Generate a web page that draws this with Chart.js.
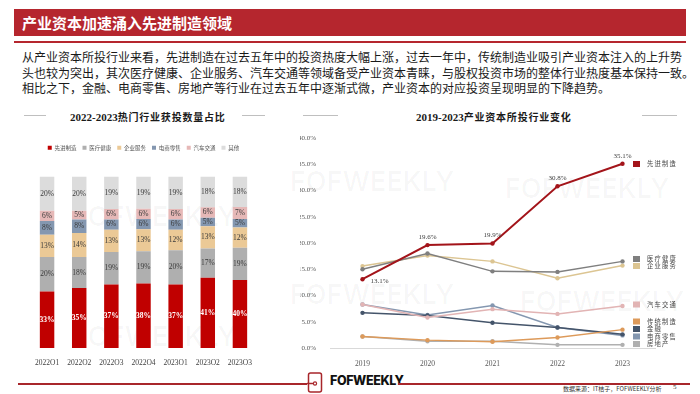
<!DOCTYPE html>
<html>
<head>
<meta charset="utf-8">
<script src="https://cdn.jsdelivr.net/npm/chart.js@4.4.0/dist/chart.umd.min.js"></script>
<style>
body{margin:0;width:700px;height:394px;position:relative;background:#fff;overflow:hidden;font-family:"Liberation Serif","Noto Sans CJK SC",serif;}
.abs{position:absolute;}
#titlebar{left:14px;top:9px;width:672px;height:27px;background:#b5262e;color:#fff;font:bold 15px "Noto Sans CJK SC";line-height:27px;padding-left:8px;box-sizing:border-box;}
#titleline{left:14px;top:41px;width:672px;height:2px;background:#b5262e;}
#para{left:22px;top:49px;font-size:12px;line-height:15.5px;letter-spacing:0;color:#1a1a1a;font-family:"Noto Sans CJK SC";white-space:nowrap;}
.ctitle{top:107px;font-weight:bold;color:#1a1a1a;white-space:nowrap;}
.ctitle .num{font:bold 11px "Liberation Serif";}
.ctitle .cn{font:bold 10px "Noto Sans CJK SC";letter-spacing:0.8px;}
.gline{height:1px;background:#bfbfbf;top:115px;}
.wm{font:600 27px "Inter";color:rgba(0,0,0,0.03);white-space:nowrap;}
.fline{height:1.5px;background:#a8262b;top:383px;}
#logo{left:330px;top:373px;font:800 12.5px "Inter";letter-spacing:-0.4px;color:#111;}
#src{left:563px;top:384px;font-size:6px;color:#333;font-family:"Noto Sans CJK SC";white-space:nowrap;}
#pg{left:673px;top:383px;font-size:7px;color:#333;}
canvas{position:absolute;}
</style>
</head>
<body>
<div class="abs wm" style="left:290px;top:165px">FOFWEEKLY</div>
<div class="abs wm" style="left:505px;top:172px">FOFWEEKLY</div>
<div class="abs wm" style="left:290px;top:278px">FOFWEEKLY</div>
<div class="abs wm" style="left:520px;top:285px">FOFWEEKLY</div>
<div class="abs wm" style="left:72px;top:200px">FOFWEEKLY</div>
<div class="abs wm" style="left:72px;top:320px">FOFWEEKLY</div>

<div id="titlebar" class="abs">产业资本加速涌入先进制造领域</div>
<div id="titleline" class="abs"></div>
<div id="para" class="abs">从产业资本所投行业来看，先进制造在过去五年中的投资热度大幅上涨，过去一年中，传统制造业吸引产业资本注入的上升势<br>头也较为突出，其次医疗健康、企业服务、汽车交通等领域备受产业资本青睐，与股权投资市场的整体行业热度基本保持一致。<br>相比之下，金融、电商零售、房地产等行业在过去五年中逐渐式微，产业资本的对应投资呈现明显的下降趋势。</div>

<div class="abs gline" style="left:24px;width:22px"></div>
<div class="abs ctitle" style="left:70px"><span class="num">2022-2023</span><span class="cn">热门行业获投数量占比</span></div>
<div class="abs gline" style="left:242px;width:23px"></div>

<div class="abs gline" style="left:303px;width:35px"></div>
<div class="abs ctitle" style="left:416px"><span class="num">2019-2023</span><span class="cn">产业资本所投行业变化</span></div>
<div class="abs gline" style="left:642px;width:35px"></div>

<canvas id="barChart" width="250" height="230" style="left:20px;top:135px"></canvas>
<canvas id="lineChart" width="400" height="245" style="left:300px;top:125px"></canvas>

<div class="abs fline" style="left:18px;width:289px"></div>
<svg class="abs" style="left:307px;top:372px" width="17" height="21" viewBox="0 0 17 21">
  <rect x="1.5" y="1" width="13" height="19" rx="2" fill="#fff" stroke="#a8262b" stroke-width="1.5"/>
  <line x1="0" y1="11.5" x2="6" y2="11.5" stroke="#a8262b" stroke-width="1.5"/>
  <circle cx="8" cy="11.5" r="1.6" fill="none" stroke="#a8262b" stroke-width="1.2"/>
</svg>
<div id="logo" class="abs">FOFWEEKLY</div>
<div class="abs fline" style="left:398px;width:292px"></div>
<div id="src" class="abs">数据来源：IT桔子，FOFWEEKLY分析</div>
<div id="pg" class="abs">5</div>

<script>
// ---- left chart: 2022-2023 share of deals by sector (%)
var quarters = ['2022Q1','2022Q2','2022Q3','2022Q4','2023Q1','2023Q2','2023Q3'];
var barNames = ['先进制造','医疗健康','企业服务','电商零售','汽车交通','其他'];
var barColors = ['#c00000','#afafaf','#ebc996','#8497b0','#e6b8b7','#dcdcdc'];
var shareAdvMfg   = [33,35,37,38,37,41,40];
var shareHealth   = [20,18,19,19,20,17,19];
var shareService  = [13,14,13,13,12,13,12];
var shareEcom     = [8,8,6,6,6,5,5];
var shareAuto     = [6,5,6,6,6,6,7];
var shareOther    = [20,20,19,19,19,18,18];
var barSeries = [shareAdvMfg,shareHealth,shareService,shareEcom,shareAuto,shareOther];

// ---- right chart: 2019-2023 industrial capital by sector (%)
var years = ['2019','2020','2021','2022','2023'];
var lineNames = ['先进制造','医疗健康','企业服务','汽车交通','传统制造','金融','电商零售','房地产'];
var lineColors = ['#a3141a','#7f7f7f','#dcc592','#e2b4b4','#dd9a5a','#44546a','#8497b0','#b0b0b0'];
var advMfg     = [13.1,19.6,19.9,30.8,35.1];
var healthcare = [15.0,18.0,14.6,14.5,16.5];
var enterprise = [15.6,17.6,16.5,13.3,15.7];
var autoTrans  = [8.3,5.8,7.4,6.5,8.0];
var tradMfg    = [2.2,1.5,1.2,2.0,3.5];
var finance    = [6.7,6.2,4.8,3.9,2.6];
var ecommerce  = [8.3,6.3,8.1,3.9,2.4];
var realEstate = [2.2,1.3,1.3,0.6,0.6];
var lineSeries = [advMfg,healthcare,enterprise,autoTrans,tradMfg,finance,ecommerce,realEstate];

// 100% stacked: each quarter is scaled to its own total
var totals = quarters.map(function(q,i){
  var s = 0;
  for (var k = 0; k < barSeries.length; k++) s += barSeries[k][i];
  return s;
});

var barLabels = {
  id:'barLabels',
  afterDatasetsDraw:function(chart){
    var ctx = chart.ctx;
    chart.data.datasets.forEach(function(ds,di){
      var meta = chart.getDatasetMeta(di);
      meta.data.forEach(function(bar,i){
        ctx.save();
        ctx.textAlign = 'center';
        ctx.textBaseline = 'middle';
        if (di == 0) {
          ctx.fillStyle = '#fff';
          ctx.font = 'bold 7.5px "Liberation Serif"';
        } else {
          ctx.fillStyle = '#3a3a3a';
          ctx.font = '7.5px "Liberation Serif"';
        }
        ctx.fillText(barSeries[di][i]+'%', bar.x, (bar.y+bar.base)/2);
        ctx.restore();
      });
    });
  }
};

var legendGap = {
  id:'legendGap',
  beforeInit:function(chart){
    var fit = chart.legend.fit;
    chart.legend.fit = function(){
      fit.bind(chart.legend)();
      this.height += 16;
    };
  }
};

new Chart(document.getElementById('barChart'), {
  type:'bar',
  data:{
    labels:quarters,
    datasets:barSeries.map(function(arr,k){
      return {
        label:barNames[k],
        data:arr.map(function(v,i){ return v*100/totals[i]; }),
        backgroundColor:barColors[k],
        categoryPercentage:1,
        barPercentage:0.45
      };
    })
  },
  options:{
    responsive:false, animation:false, events:[],
    layout:{padding:{top:4,left:11,right:14,bottom:0}},
    plugins:{
      tooltip:{enabled:false},
      legend:{
        position:'top',
        labels:{boxWidth:4,boxHeight:4,padding:6,color:'#555',font:{family:'"Noto Sans CJK SC"',size:5.5}}
      }
    },
    scales:{
      x:{stacked:true,grid:{display:false},border:{display:false},
         ticks:{color:'#404040',font:{family:'"Liberation Serif"',size:7.5},padding:3},
         afterFit:function(s){ s.height = 17; }},
      y:{stacked:true,display:false,min:0,max:100}
    }
  },
  plugins:[barLabels,legendGap]
});

var pointLabels = {
  id:'pointLabels',
  afterDatasetsDraw:function(chart){
    var ctx = chart.ctx;
    var meta = chart.getDatasetMeta(0);
    ctx.save();
    ctx.fillStyle = '#404040';
    ctx.font = '7px "Liberation Serif"';
    ctx.textBaseline = 'middle';
    meta.data.forEach(function(pt,i){
      var txt = advMfg[i].toFixed(1)+'%';
      if (i == 0) {
        ctx.textAlign = 'left';
        ctx.fillText(txt, pt.x+8, pt.y+2);
      } else {
        ctx.textAlign = 'center';
        ctx.fillText(txt, pt.x, pt.y-8);
      }
    });
    ctx.restore();
  }
};

// legend rows sit next to the line ends (canvas y)
var legendRowY = [39,134,141,179.5,196.5,204,211.5,219];
var sideLegend = {
  id:'sideLegend',
  afterDraw:function(chart){
    var ctx = chart.ctx;
    ctx.save();
    ctx.font = '6.3px "Noto Sans CJK SC"';
    ctx.letterSpacing = '1.2px';
    ctx.textBaseline = 'middle';
    ctx.textAlign = 'left';
    lineNames.forEach(function(n,i){
      var y = legendRowY[i];
      ctx.fillStyle = lineColors[i];
      ctx.fillRect(333, y-3, 7, 6);
      ctx.fillStyle = '#444';
      ctx.fillText(n, 347, y);
    });
    ctx.restore();
  }
};

new Chart(document.getElementById('lineChart'), {
  type:'line',
  data:{
    labels:years,
    datasets:lineSeries.map(function(arr,k){
      return {
        label:lineNames[k],
        data:arr,
        borderColor:lineColors[k],
        backgroundColor:lineColors[k],
        borderWidth:k==0?2:1.5,
        pointRadius:2.2,
        pointBorderWidth:0,
        pointBackgroundColor:lineColors[k],
        tension:0
      };
    })
  },
  options:{
    responsive:false, animation:false, events:[],
    layout:{padding:{top:13,left:0,right:45,bottom:0}},
    plugins:{legend:{display:false},tooltip:{enabled:false}},
    scales:{
      x:{offset:true,grid:{display:false},border:{color:'#d9d9d9'},
         ticks:{color:'#595959',font:{family:'"Liberation Serif"',size:7.5},padding:4},
         afterFit:function(s){ s.height = 22; }},
      y:{min:0,max:40,grid:{display:false},border:{display:false},
         ticks:{stepSize:5,color:'#595959',font:{family:'"Liberation Serif"',size:7},padding:6,
                callback:function(v){ return v.toFixed(1)+'%'; }},
         afterFit:function(s){ s.width = 30; }}
    }
  },
  plugins:[pointLabels,sideLegend]
});
</script>
</body>
</html>
